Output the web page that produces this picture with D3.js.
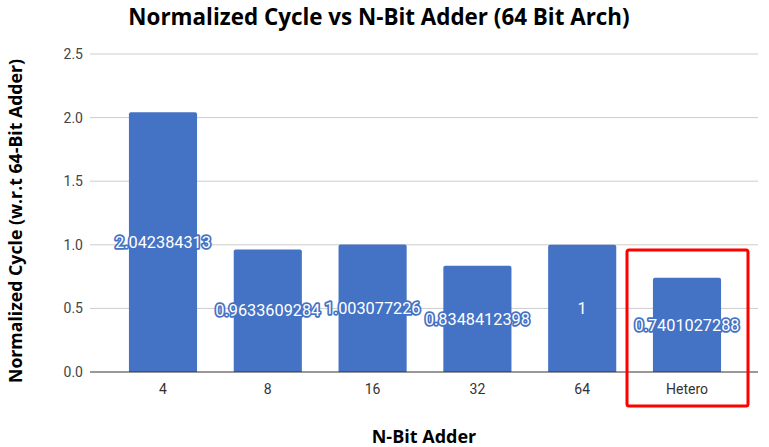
<!DOCTYPE html>
<html><head><meta charset="utf-8">
<script src="https://cdn.jsdelivr.net/npm/d3@7/dist/d3.min.js"></script>
<style>body{margin:0;background:#fff}svg{display:block}</style>
</head><body>
<svg id="c" width="769" height="447"></svg>
<script>
const categories = ["4", "8", "16", "32", "64", "Hetero"];
const values = [2.042384313, 0.9633609284, 1.003077226, 0.8348412398, 1, 0.7401027288];
const labels = ["2.042384313", "0.9633609284", "1.003077226", "0.8348412398", "1", "0.7401027288"];
const yTicks = [0, 0.5, 1, 1.5, 2, 2.5];
const highlight = "Hetero";

(function () {
const svg = d3.select("#c");
const gridLeft = 90, gridRight = 758, plotTop = 54, plotBottom = 372;

const x = d3.scaleBand().domain(categories).range([110.6, 739.4]).paddingInner(0.35).paddingOuter(0.175);
const y = d3.scaleLinear().domain([0, 2.5]).range([plotBottom, plotTop]);

// gridlines
svg.append("g").selectAll("line").data(yTicks.filter(d => d > 0)).join("line")
  .attr("x1", gridLeft).attr("x2", gridRight)
  .attr("y1", d => y(d)).attr("y2", d => y(d))
  .attr("stroke", "#cccccc").attr("stroke-width", 1);

// y tick labels
svg.append("g").selectAll("text").data(yTicks).join("text")
  .attr("x", 83).attr("y", d => y(d)).attr("dy", "0.35em")
  .attr("text-anchor", "end")
  .attr("font-family", "Roboto, sans-serif").attr("font-size", 14).attr("fill", "#444")
  .text(d => d.toFixed(1));

// bars
const bw = x.bandwidth();
svg.append("g").selectAll("path").data(categories).join("path")
  .attr("fill", "#4472c4")
  .attr("d", (c, i) => {
    const x0 = x(c), x1 = x0 + bw, y0 = y(values[i]), y1 = y(0), r = 2;
    return `M${x0},${y1}V${y0 + r}Q${x0},${y0} ${x0 + r},${y0}H${x1 - r}Q${x1},${y0} ${x1},${y0 + r}V${y1}Z`;
  });

// baseline
svg.append("line").attr("x1", gridLeft).attr("x2", gridRight)
  .attr("y1", y(0)).attr("y2", y(0)).attr("stroke", "#333").attr("stroke-width", 1);

// x tick labels
svg.append("g").selectAll("text").data(categories).join("text")
  .attr("x", c => x(c) + bw / 2).attr("y", 389).attr("dy", "0.35em")
  .attr("text-anchor", "middle")
  .attr("font-family", "Roboto, sans-serif").attr("font-size", 14).attr("fill", "#333")
  .text(c => c);

// data labels
svg.append("g").selectAll("text").data(categories).join("text")
  .attr("x", c => x(c) + bw / 2).attr("y", (c, i) => y(values[i] / 2)).attr("dy", "0.35em")
  .attr("text-anchor", "middle")
  .attr("font-family", "Roboto, sans-serif").attr("font-size", 16.3)
  .attr("fill", "#fff").attr("stroke", "#4472c4").attr("stroke-width", 3.5)
  .attr("stroke-linejoin", "round").attr("paint-order", "stroke")
  .text((c, i) => labels[i]);

// highlight box
const hx = x(highlight) + bw / 2;
svg.append("rect").attr("x", hx - 60).attr("y", 250).attr("width", 121).attr("height", 156)
  .attr("rx", 2).attr("fill", "none").attr("stroke", "#ff0000").attr("stroke-width", 3);

// title
svg.append("text").attr("x", 379).attr("y", 17).attr("dy", "0.35em").attr("text-anchor", "middle")
  .attr("font-family", "'Open Sans', sans-serif").attr("font-weight", "bold").attr("font-size", 22.4).attr("fill", "#000")
  .text("Normalized Cycle vs N-Bit Adder (64 Bit Arch)");

// axis titles
svg.append("text").attr("x", 424).attr("y", 437).attr("dy", "0.35em").attr("text-anchor", "middle")
  .attr("font-family", "'Open Sans', sans-serif").attr("font-weight", "bold").attr("font-size", 18).attr("fill", "#000")
  .text("N-Bit Adder");

svg.append("text").attr("transform", "translate(16,221) rotate(-90)").attr("dy", "0.35em").attr("text-anchor", "middle")
  .attr("font-family", "'Open Sans', sans-serif").attr("font-weight", "bold").attr("font-size", 17.7).attr("fill", "#000")
  .text("Normalized Cycle (w.r.t 64-Bit Adder)");
})();
</script>
</body></html>
